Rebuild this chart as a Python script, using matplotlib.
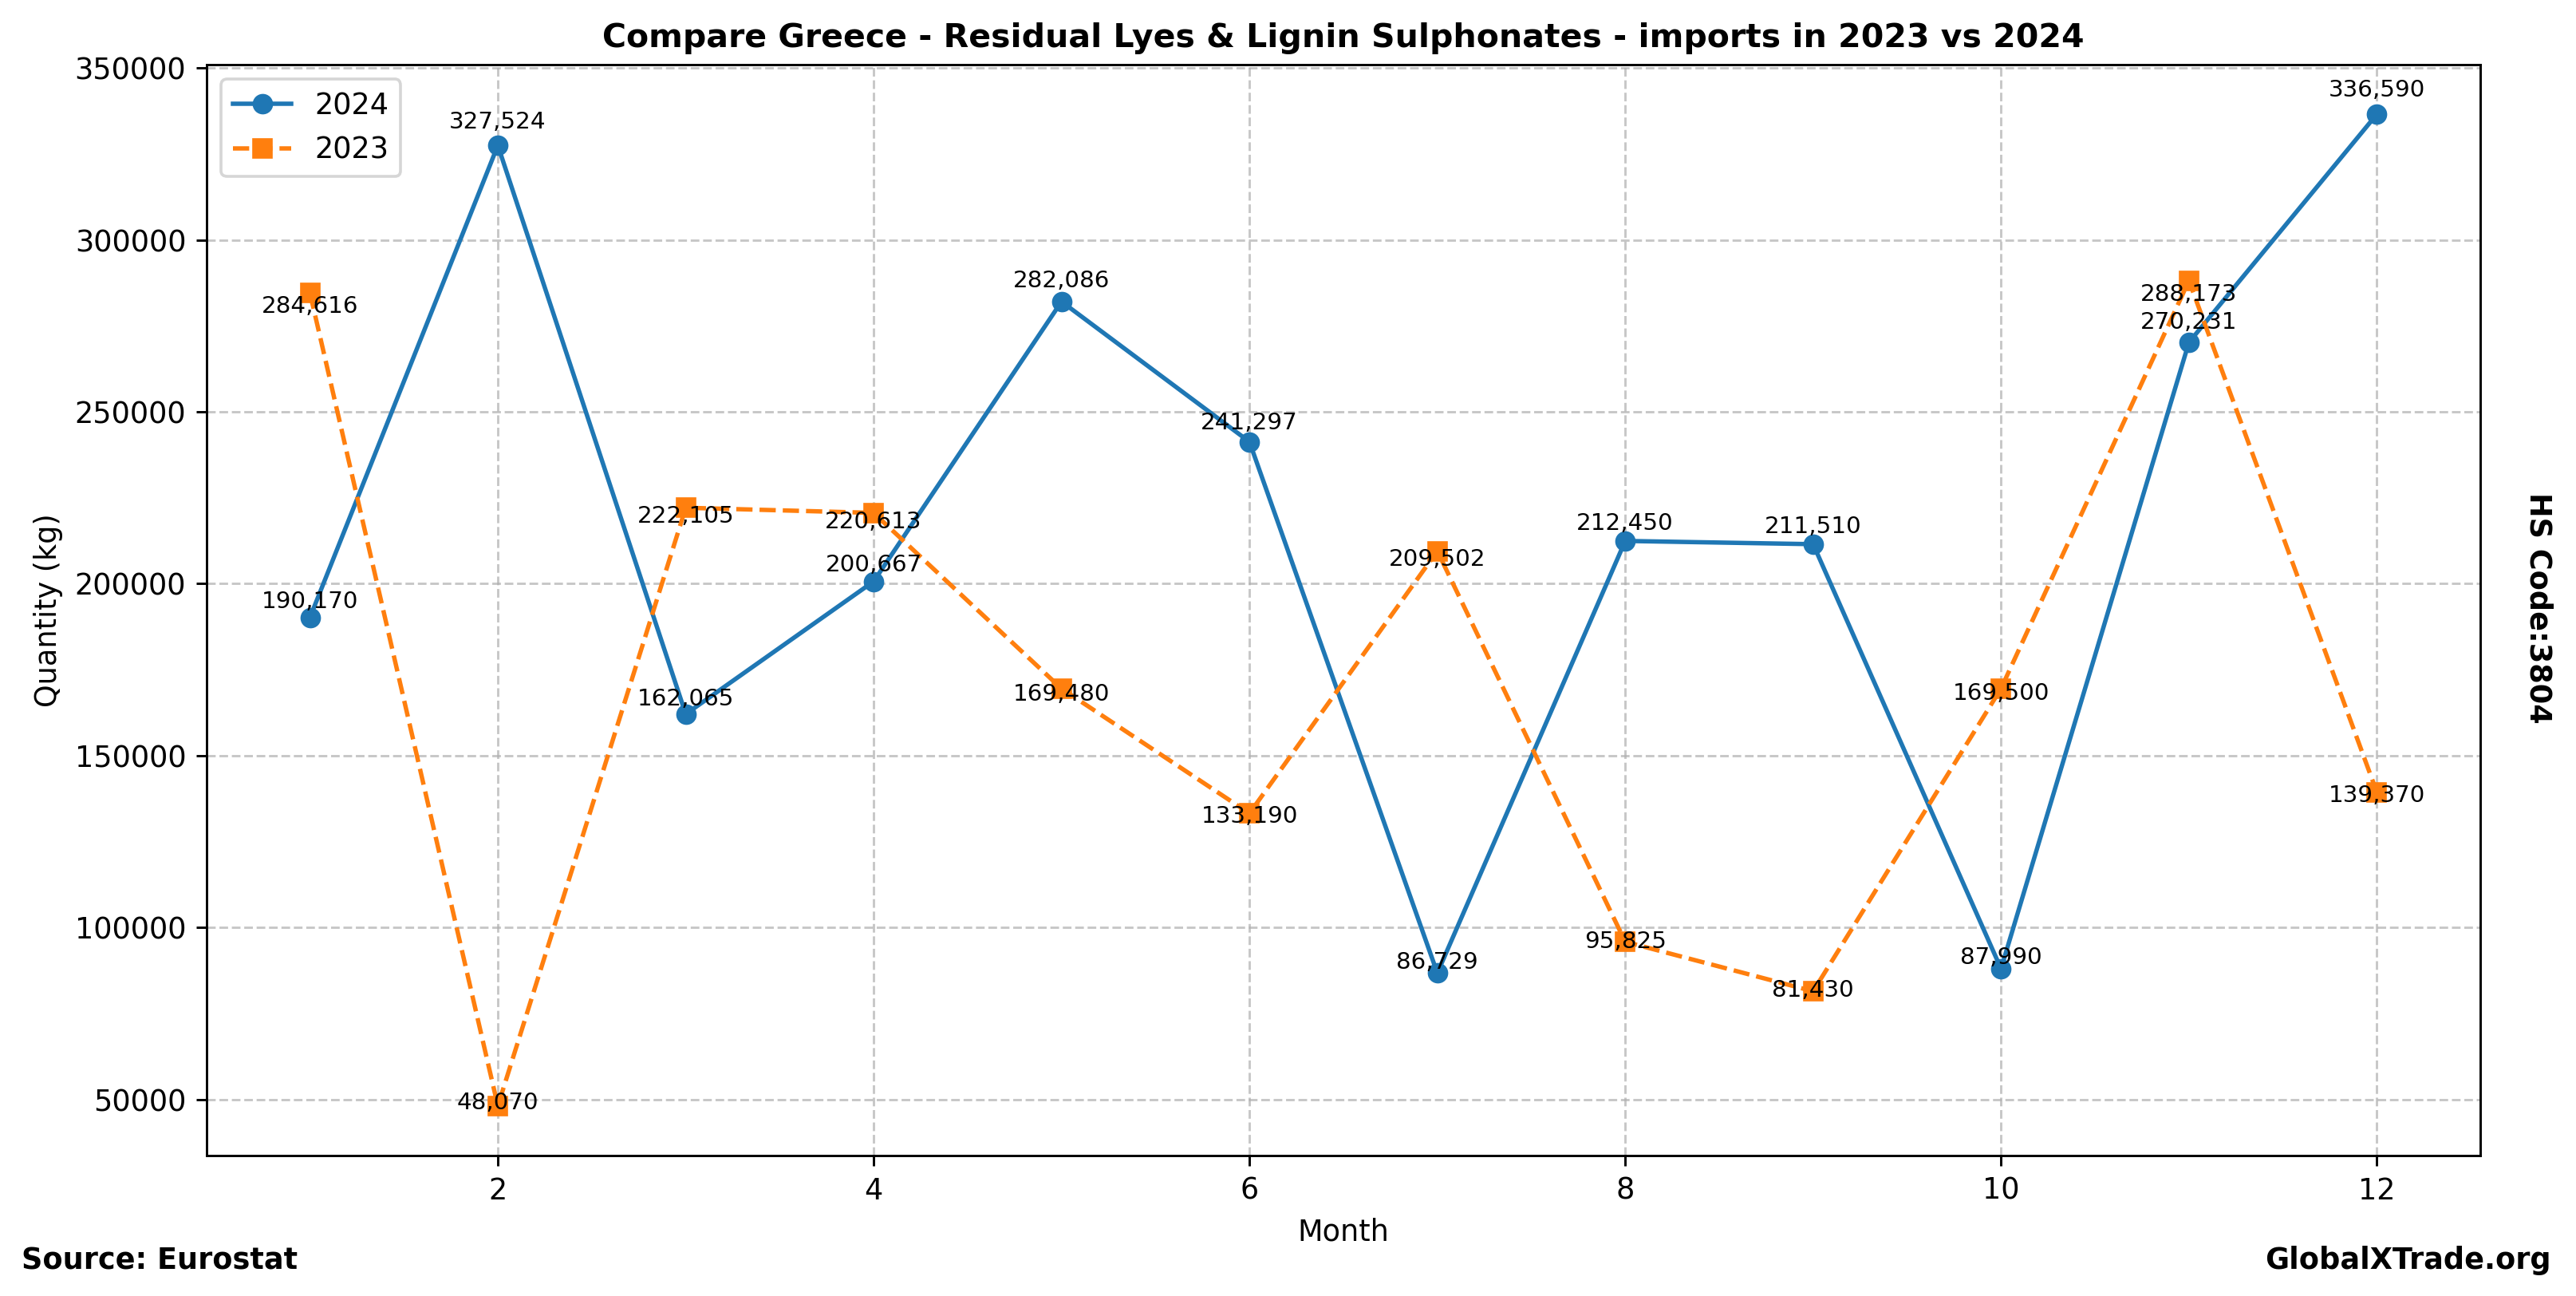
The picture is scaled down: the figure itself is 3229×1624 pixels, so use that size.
import matplotlib
matplotlib.use("Agg")
import matplotlib.pyplot as plt

months = [1, 2, 3, 4, 5, 6, 7, 8, 9, 10, 11, 12]
values_2024 = [190170, 327524, 162065, 200667, 282086, 241297, 86729, 212450, 211510, 87990, 270231, 336590]
values_2023 = [284616, 48070, 222105, 220613, 169480, 133190, 209502, 95825, 81430, 169500, 288173, 139370]

DPI = 264
fig = plt.figure(figsize=(3229 / DPI, 1624 / DPI), dpi=DPI)
ax = fig.add_axes([0.0802, 0.1084, 0.8826, 0.8417])

ax.plot(months, values_2024, marker='o', linestyle='-', color='#1f77b4', label='2024')
ax.plot(months, values_2023, marker='s', linestyle='--', color='#ff7f0e', label='2023')

for x, y in zip(months, values_2024):
    ax.text(x, y * 1.015, f"{y:,}", ha='center', fontsize=8)
for x, y in zip(months, values_2023):
    ax.text(x, y * 0.98, f"{y:,}", ha='center', fontsize=8)

ax.set_title("Compare Greece - Residual Lyes & Lignin Sulphonates - imports in 2023 vs 2024",
             fontsize=11.2, fontweight='bold')
ax.set_xlabel("Month", fontsize=10)
ax.set_ylabel("Quantity (kg)", fontsize=10)
ax.tick_params(labelsize=10)
ax.grid(True, linestyle='--', alpha=0.7)
ax.legend(loc='upper left', fontsize=10)

fig.text(0.9854, 0.531, "HS Code:3804", rotation=270, ha='center', va='center', fontsize=10, fontweight='bold')
fig.text(0.0084, 0.0209, "Source: Eurostat", ha='left', va='baseline', fontsize=10, fontweight='bold')
fig.text(0.9904, 0.0209, "GlobalXTrade.org", ha='right', va='baseline', fontsize=10, fontweight='bold')

fig.savefig("out.png", dpi=DPI)
